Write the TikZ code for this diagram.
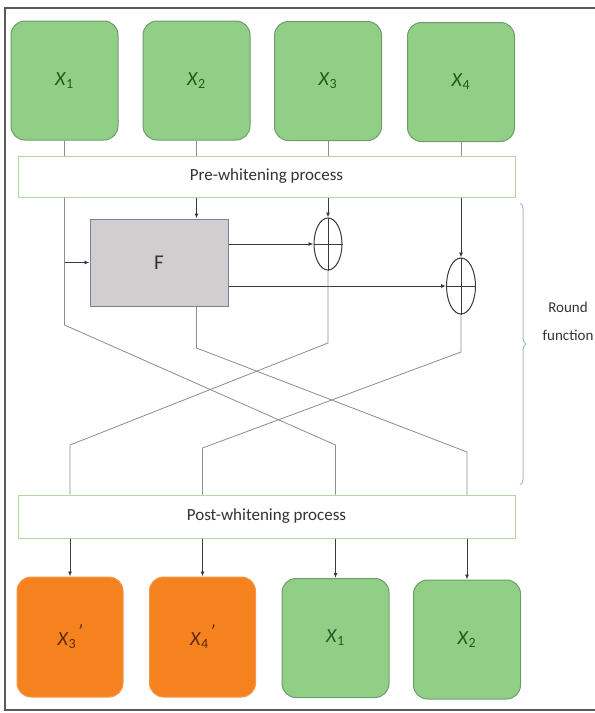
\documentclass[tikz,border=0pt]{standalone}
\usepackage{fontspec}
\setmainfont{Carlito}
\usetikzlibrary{shapes.geometric,arrows.meta,decorations.pathreplacing}
\definecolor{gfill}{HTML}{92CF86}
\definecolor{gdraw}{HTML}{6E9C6A}
\definecolor{ofill}{HTML}{F6821F}
\definecolor{odraw}{HTML}{F79646}
\definecolor{ffill}{HTML}{D0CECE}
\definecolor{fdraw}{HTML}{6F8797}
\definecolor{pdraw}{HTML}{B5D6A0}
\definecolor{gtext}{HTML}{1F5A1F}
\definecolor{otext}{HTML}{5A2A0A}
\definecolor{lgray}{HTML}{8C8C8C}
\definecolor{dgray}{HTML}{3A3A3A}
\definecolor{brc}{HTML}{A9BCCB}
\newcommand\xlab[1]{\textit{X}\textsubscript{#1}}
\newcommand\xlabp[1]{\textit{X}\textsubscript{#1}\kern0.05em\raisebox{0.35em}{\textit{'}}}
\tikzset{
  gbox/.style={draw=gdraw, line width=1pt, fill=gfill, rounded corners=14pt, minimum width=107pt, minimum height=119pt, text=gtext, font=\fontsize{20}{24}\selectfont},
  obox/.style={draw=odraw, line width=1pt, fill=ofill, rounded corners=14pt, minimum width=106pt, minimum height=120pt, text=otext, font=\fontsize{20}{24}\selectfont},
  pbox/.style={draw=pdraw, line width=1pt, fill=white, minimum width=497pt, text=black!80, font=\fontsize{17}{20}\selectfont},
  fbox/.style={draw=fdraw, line width=1pt, fill=ffill, minimum width=138pt, minimum height=87pt, font=\fontsize{21}{24}\selectfont, text=black!80},
  xorn/.style={ellipse, draw=dgray, line width=1pt, inner sep=0pt},
  ln/.style={draw=lgray, line width=0.8pt},
  arr/.style={draw=dgray, line width=0.9pt, -{Latex[length=5pt,width=4pt]}},
  plus/.style={draw=dgray, line width=1pt},
  brc/.style={draw=brc, line width=1pt, decorate, decoration={brace, amplitude=6pt}},
  frame/.style={draw=black!65, line width=2pt},
  rfn/.style={align=center, font=\fontsize{15}{28}\selectfont, text=black!80}
}
\begin{document}
\begin{tikzpicture}[x=1pt,y=-1pt]
\useasboundingbox (0,0) rectangle (595,713);
\draw[frame] (595,8) -- (5,8) -- (5,710) -- (595,710);

% top inputs
\node[gbox] (t1) at (64.5,80.5) {\xlab{1}};
\node[gbox] (t2) at (196.5,80.5) {\xlab{2}};
\node[gbox] (t3) at (328,81) {\xlab{3}};
\node[gbox] (t4) at (461,82) {\xlab{4}};

\node[pbox, minimum height=41pt] (pre) at (266.5,176.5) {Pre-whitening process};
\node[pbox, minimum height=43pt] (post) at (266.5,516.5) {Post-whitening process};

\node[fbox] (F) at (159,262.5) {F};
\node[xorn, minimum width=28pt, minimum height=52pt] (o1) at (328,244) {};
\node[xorn, minimum width=29pt, minimum height=56pt] (o2) at (461,286) {};

% bottom outputs
\node[obox] (b1) at (70,637) {\xlabp{3}};
\node[obox] (b2) at (202.5,637) {\xlabp{4}};
\node[gbox] (b3) at (335.5,638) {\xlab{1}};
\node[gbox, minimum height=119pt] (b4) at (467,639.5) {\xlab{2}};

% routing points
\coordinate (A1) at (64.5,325);
\coordinate (A2) at (335.5,445);
\coordinate (B1) at (196.5,348);
\coordinate (B2) at (467,452);
\coordinate (C1) at (328,343);
\coordinate (C2) at (70,445);
\coordinate (D1) at (461,352);
\coordinate (D2) at (202.5,448);

% top boxes to pre-whitening
\foreach \n in {t1,t2,t3,t4} \draw[ln] (\n.south) -- (\n.south |- pre.north);

% round function
\draw[ln] (pre.south -| A1) -- (A1) -- (A2) -- (A2 |- post.north);
\draw[arr] (F.west -| A1) -- (F.west);
\draw[arr] (pre.south -| B1) -- (F.north -| B1);
\draw[ln] (F.south -| B1) -- (B1) -- (B2) -- (B2 |- post.north);
\draw[arr] (pre.south -| o1) -- (o1.north);
\draw[arr] (pre.south -| o2) -- (o2.north);
\draw[arr] (F.east |- o1) -- (o1.west);
\draw[arr] (F.east |- o2) -- (o2.west);
\draw[plus] (o1.west) -- (o1.east);
\draw[plus] (o1.north) -- (o1.south);
\draw[plus] (o2.west) -- (o2.east);
\draw[plus] (o2.north) -- (o2.south);
\draw[ln] (o1.south) -- (C1) -- (C2) -- (C2 |- post.north);
\draw[ln] (o2.south) -- (D1) -- (D2) -- (D2 |- post.north);

% post-whitening to outputs
\foreach \n in {b1,b2,b3,b4} \draw[arr] (post.south -| \n) -- (\n.north);

% brace and label
\coordinate (brt) at (520,203);
\coordinate (brb) at (520,485);
\draw[brc] (brt) -- (brb);
\node[rfn] (rf) at (568,321) {Round\\function};
\end{tikzpicture}
\end{document}
